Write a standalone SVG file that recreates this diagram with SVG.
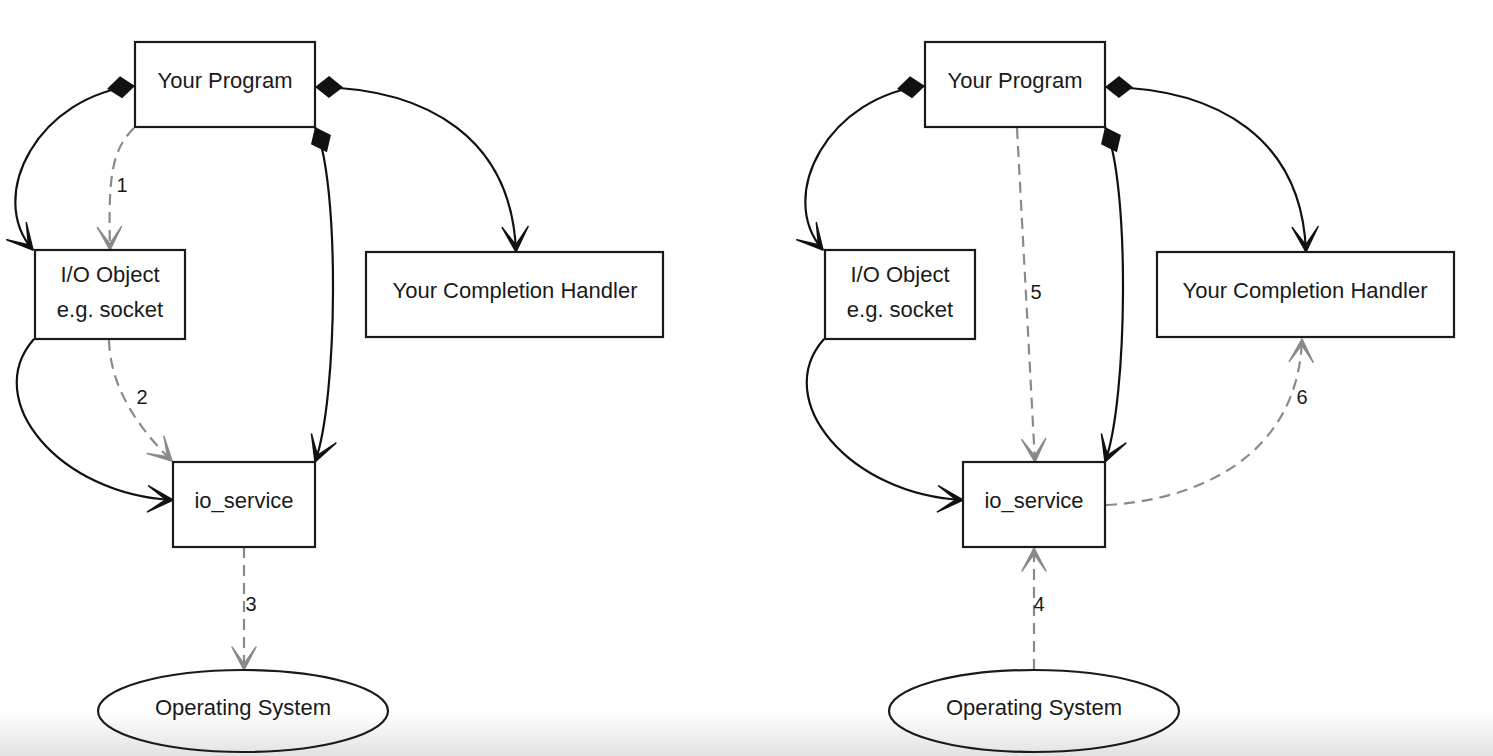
<svg xmlns="http://www.w3.org/2000/svg" width="1493" height="756" viewBox="0 0 1493 756">
<style>
.box{fill:#fff;stroke:#1a1a1a;stroke-width:2.2}
.os{fill:none;stroke:#1a1a1a;stroke-width:2.2}
.t{font-family:"Liberation Sans",Arial,sans-serif;font-size:22px;fill:#1a1a1a;text-anchor:middle}
.n{font-family:"Liberation Sans",Arial,sans-serif;font-size:20px;fill:#1a1a1a;text-anchor:middle}
.solid{fill:none;stroke:#111;stroke-width:2.2}
.dash{fill:none;stroke:#8a8a8a;stroke-width:2.2;stroke-dasharray:11 7}
</style>
<defs>
<linearGradient id="bot" x1="0" y1="0" x2="0" y2="1">
<stop offset="0" stop-color="#ffffff"/>
<stop offset="1" stop-color="#e2e2e2"/>
</linearGradient>
<marker id="diam" markerUnits="userSpaceOnUse" orient="auto" refX="0" refY="0" markerWidth="40" markerHeight="40" overflow="visible">
<path d="M0,0 L14,-11 L28,0 L14,11 Z" fill="#111" stroke="none"/>
</marker>
<marker id="vee" markerUnits="userSpaceOnUse" orient="auto" refX="0" refY="0" markerWidth="40" markerHeight="40" overflow="visible">
<path d="M0,0 L-25,-13 L-7,0 L-25,13 Z" fill="#111" stroke="#111" stroke-width="1.5" stroke-linejoin="round"/>
</marker>
<marker id="veeg" markerUnits="userSpaceOnUse" orient="auto" refX="0" refY="0" markerWidth="40" markerHeight="40" overflow="visible">
<path d="M0,0 L-23,-12 L-6,0 L-23,12 Z" fill="#8a8a8a" stroke="#8a8a8a" stroke-width="1.5" stroke-linejoin="round"/>
</marker>
</defs>
<rect x="0" y="0" width="1493" height="756" fill="#fff"/>
<rect x="0" y="712" width="1493" height="44" fill="url(#bot)"/>

<g id="connectors">
<!-- left diagram -->
<path class="solid" d="M135,86 C40,95 -15,195 33,250" marker-start="url(#diam)" marker-end="url(#vee)"/>
<path class="solid" d="M315,87 C430,88 512,140 516,252" marker-start="url(#diam)" marker-end="url(#vee)"/>
<path class="solid" d="M315,127 C340,180 338,400 315,462" marker-start="url(#diam)" marker-end="url(#vee)"/>
<path class="solid" d="M34,339 C-20,400 60,495 173,500" marker-end="url(#vee)"/>
<path class="dash" d="M134,128 C112,150 108,175 110,250" marker-end="url(#veeg)"/>
<path class="dash" d="M109,340 C110,380 130,420 172,461" marker-end="url(#veeg)"/>
<path class="dash" d="M244,547 L244,670" marker-end="url(#veeg)"/>
<!-- right diagram -->
<path class="solid" d="M925,86 C830,95 775,195 823,250" marker-start="url(#diam)" marker-end="url(#vee)"/>
<path class="solid" d="M1105,87 C1220,88 1302,140 1306,252" marker-start="url(#diam)" marker-end="url(#vee)"/>
<path class="solid" d="M1105,127 C1130,180 1128,400 1105,462" marker-start="url(#diam)" marker-end="url(#vee)"/>
<path class="solid" d="M824,339 C770,400 850,495 963,500" marker-end="url(#vee)"/>
<path class="dash" d="M1017,128 L1035,462" marker-end="url(#veeg)"/>
<path class="dash" d="M1034,670 L1034,548" marker-end="url(#veeg)"/>
<path class="dash" d="M1106,505 C1200,500 1298,455 1302,339" marker-end="url(#veeg)"/>
<text class="n" x="122" y="192">1</text>
<text class="n" x="142" y="404">2</text>
<text class="n" x="251" y="611">3</text>
<text class="n" x="1039" y="611">4</text>
<text class="n" x="1036" y="299">5</text>
<text class="n" x="1302" y="404">6</text>
</g>

<g id="program-left">
<rect class="box" x="135" y="42" width="180" height="85"/>
<text class="t" x="225" y="88">Your Program</text>
</g>
<g id="io-object-left">
<rect class="box" x="35" y="250" width="150" height="89"/>
<text class="t" x="110" y="282">I/O Object</text>
<text class="t" x="110" y="317">e.g. socket</text>
</g>
<g id="io-service-left">
<rect class="box" x="173" y="462" width="142" height="85"/>
<text class="t" x="244" y="508">io_service</text>
</g>
<g id="handler-left">
<rect class="box" x="366" y="252" width="297" height="85"/>
<text class="t" x="515" y="298">Your Completion Handler</text>
</g>
<g id="os-left">
<ellipse class="os" cx="243" cy="711" rx="145" ry="41"/>
<text class="t" x="243" y="715">Operating System</text>
</g>

<g id="program-right">
<rect class="box" x="925" y="42" width="180" height="85"/>
<text class="t" x="1015" y="88">Your Program</text>
</g>
<g id="io-object-right">
<rect class="box" x="825" y="250" width="150" height="89"/>
<text class="t" x="900" y="282">I/O Object</text>
<text class="t" x="900" y="317">e.g. socket</text>
</g>
<g id="io-service-right">
<rect class="box" x="963" y="462" width="142" height="85"/>
<text class="t" x="1034" y="508">io_service</text>
</g>
<g id="handler-right">
<rect class="box" x="1157" y="252" width="297" height="85"/>
<text class="t" x="1305" y="298">Your Completion Handler</text>
</g>
<g id="os-right">
<ellipse class="os" cx="1034" cy="711" rx="145" ry="41"/>
<text class="t" x="1034" y="715">Operating System</text>
</g>
</svg>
